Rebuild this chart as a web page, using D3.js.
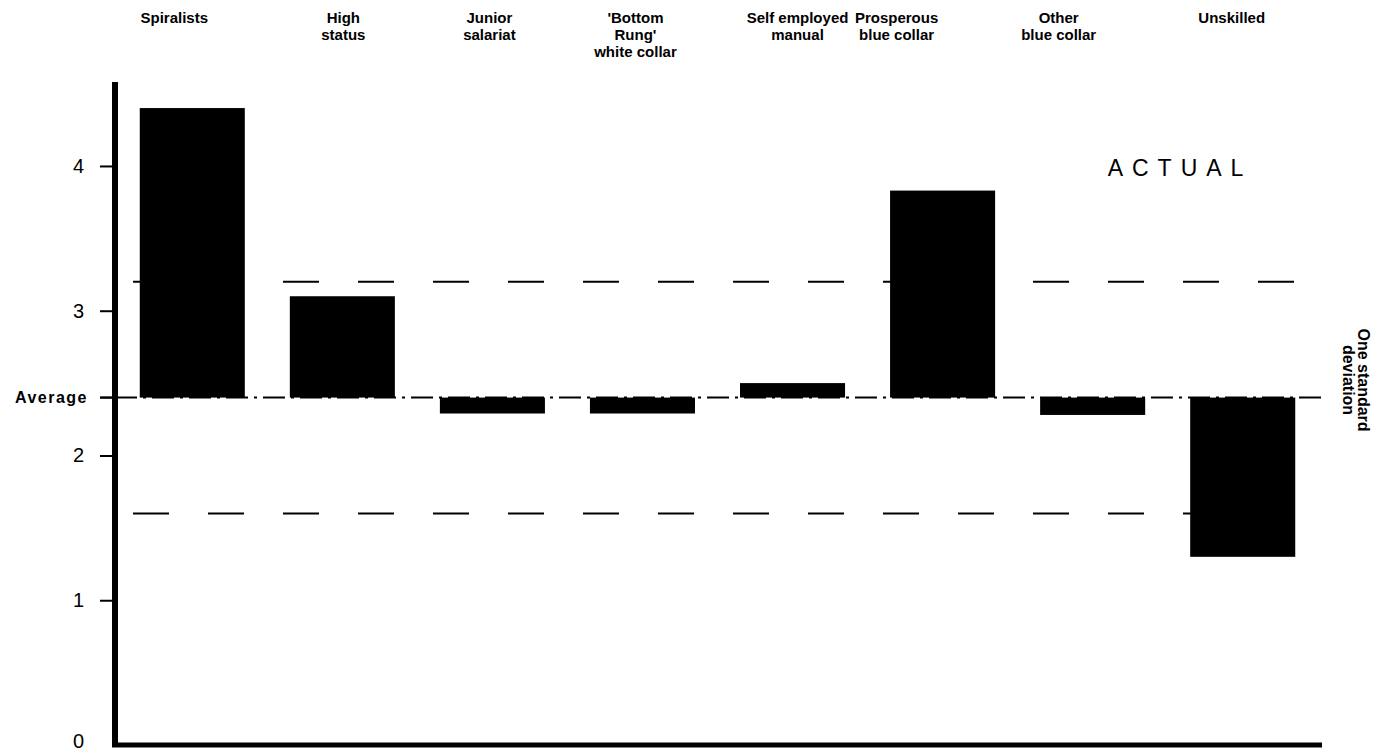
<!DOCTYPE html>
<html>
<head>
<meta charset="utf-8">
<script src="https://cdn.jsdelivr.net/npm/d3@7"></script>
<style>
  html, body { margin: 0; padding: 0; background: #fff; }
  svg { display: block; }
  .cat { font-family: "Liberation Sans Narrow", "Liberation Sans", Arial, sans-serif; font-weight: bold; font-size: 15px; fill: #000; }
  .ytick { font-family: "Liberation Sans", Arial, sans-serif; font-size: 20px; fill: #000; }
</style>
</head>
<body>
<svg id="chart" width="1380" height="756"></svg>
<script>
// ---- data ----
const categories = ["Spiralists", "High status", "Junior salariat", "'Bottom Rung' white collar",
                    "Self employed manual", "Prosperous blue collar", "Other blue collar", "Unskilled"];
const categoryLines = [["Spiralists"], ["High", "status"], ["Junior", "salariat"], ["'Bottom", "Rung'", "white collar"],
                       ["Self employed", "manual"], ["Prosperous", "blue collar"], ["Other", "blue collar"], ["Unskilled"]];
const values = [4.40, 3.10, 2.29, 2.29, 2.50, 3.83, 2.28, 1.30];
const average = 2.4;
const standardDeviation = 0.8;
const yTicks = [0, 1, 2, 3, 4];
const averageLabel = "Average";
const panelTitle = "ACTUAL";
const sdLabel = ["One standard", "deviation"];

// ---- layout ----
const svg = d3.select("#chart");
const x = d3.scaleBand().domain(categories).range([115, 1320]).paddingInner(0.3).paddingOuter(0.165);
const y = d3.scaleLinear().domain([0, 4.58]).range([745, 82]);
const xLeft = 115, xRight = 1322;

// reference lines
const upper = average + standardDeviation, lower = average - standardDeviation;
svg.append("line").attr("x1", 133).attr("x2", xRight).attr("y1", y(upper)).attr("y2", y(upper))
  .attr("stroke", "#000").attr("stroke-width", 2).attr("stroke-dasharray", "36 39");
svg.append("line").attr("x1", 133).attr("x2", xRight).attr("y1", y(lower)).attr("y2", y(lower))
  .attr("stroke", "#000").attr("stroke-width", 2).attr("stroke-dasharray", "36 39");
svg.append("line").attr("x1", xLeft).attr("x2", xRight).attr("y1", y(average)).attr("y2", y(average))
  .attr("stroke", "#000").attr("stroke-width", 2).attr("stroke-dasharray", "22 6 3 6");

// bars from the average
svg.append("g").selectAll("rect").data(categories).join("rect")
  .attr("x", d => x(d))
  .attr("width", x.bandwidth())
  .attr("y", (d, i) => y(Math.max(values[i], average)))
  .attr("height", (d, i) => Math.abs(y(values[i]) - y(average)))
  .attr("fill", "#000");

// y axis
const yAxis = d3.axisLeft(y).tickValues(yTicks.filter(t => t > 0)).tickSize(13).tickFormat("");
const gy = svg.append("g").attr("transform", `translate(${xLeft - 2},0)`).call(yAxis);
gy.select(".domain").remove();
gy.selectAll(".tick line").attr("stroke-width", 2);
svg.append("line").attr("x1", xLeft).attr("x2", xLeft).attr("y1", y(4.58)).attr("y2", y(0) + 2)
  .attr("stroke", "#000").attr("stroke-width", 6);
svg.append("line").attr("x1", xLeft - 3).attr("x2", xRight).attr("y1", y(0)).attr("y2", y(0))
  .attr("stroke", "#000").attr("stroke-width", 5);
// average tick
svg.append("line").attr("x1", 100).attr("x2", xLeft).attr("y1", y(average)).attr("y2", y(average))
  .attr("stroke", "#000").attr("stroke-width", 2.5);

svg.append("g").selectAll("text").data(yTicks).join("text")
  .attr("class", "ytick")
  .attr("x", 84).attr("y", d => y(d) - (d === 0 ? 4 : 0)).attr("dy", "0.35em").attr("text-anchor", "end")
  .text(d => d);
svg.append("text").attr("class", "cat").attr("x", 88).attr("y", y(average)).attr("dy", "0.35em")
  .attr("text-anchor", "end").style("font-size", "16px").style("letter-spacing", "1.5px").text(averageLabel);

// category labels (hand-placed offsets from band centres as in the original)
const labelShift = [-18, 1, -3, -7, 5, -46, -34, -11];
const lab = svg.append("g").selectAll("text").data(categories).join("text")
  .attr("class", "cat").attr("text-anchor", "middle")
  .attr("transform", (d, i) => `translate(${x(d) + x.bandwidth() / 2 + labelShift[i]},23)`);
lab.selectAll("tspan").data((d, i) => categoryLines[i]).join("tspan")
  .attr("x", 0).attr("y", (d, j) => j * 17).text(d => d);

// panel title
svg.append("text").attr("x", 1180).attr("y", 176).attr("text-anchor", "middle")
  .style("font-family", "'Liberation Sans', Arial, sans-serif").style("font-size", "23px")
  .style("letter-spacing", "9px").text(panelTitle);

// SD label, rotated
const sd = svg.append("text").attr("class", "cat").attr("text-anchor", "middle")
  .style("font-size", "16px")
  .attr("transform", `translate(1358,380) rotate(90)`);
sd.selectAll("tspan").data(sdLabel).join("tspan").attr("x", 0).attr("y", (d, j) => j * 15).text(d => d);
</script>
</body>
</html>
